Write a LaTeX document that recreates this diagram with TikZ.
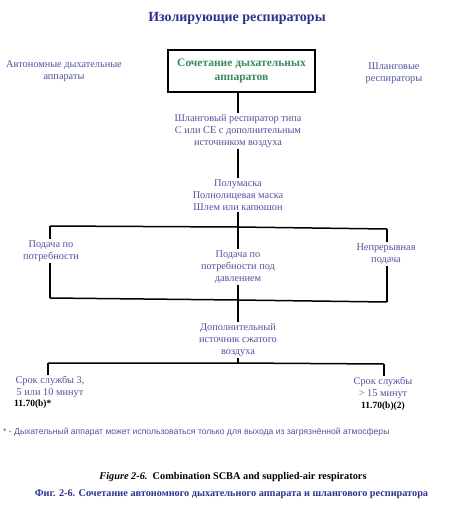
\documentclass[tikz,border=0pt]{standalone}
\usepackage{fontspec}
\setmainfont{Liberation Serif}
\setsansfont{Liberation Sans}
\definecolor{titleblue}{HTML}{2E3190}
\definecolor{txtblue}{HTML}{5252A0}
\definecolor{boxgreen}{HTML}{3A8A5A}
\begin{document}
\begin{tikzpicture}[x=1pt,y=-1pt,
  txt/.style={align=center,text=txtblue,font=\fontsize{10.3}{12}\selectfont,inner sep=1.5pt},
  ref/.style={text=black,font=\fontsize{9.5}{11}\selectfont\bfseries,inner sep=1pt},
  ln/.style={line width=1.5pt,black},
  combobox/.style={draw,line width=1.5pt,minimum width=147,minimum height=42,align=center,
    text=boxgreen,font=\fontsize{11.5}{14}\selectfont\bfseries}]
\useasboundingbox[fill=white] (0,0) rectangle (462,512);
\node[text=titleblue,font=\fontsize{14}{16}\selectfont\bfseries] (title) at (237,18) {Изолирующие респираторы};
\node[txt] (auto) at (64,71) {Автономные дыхательные\\аппараты};
\node[combobox] (combo) at (241.5,71) {Сочетание дыхательных\\аппаратов};
\node[txt] (hoseresp) at (394,73) {Шланговые\\респираторы};
\node[txt] (hose) at (238,131) {Шланговый респиратор типа\\С или СЕ с дополнительным\\источником воздуха};
\node[txt] (mask) at (238,195) {Полумаска\\Полнолицевая маска\\Шлем или капюшон};
\coordinate (tl) at (50,226);
\coordinate (tm) at (238,227);
\coordinate (tr) at (387,229);
\node[txt] (dl) at (51,251) {Подача по\\потребности};
\node[txt] (dm) at (238,267) {Подача по\\потребности под\\давлением};
\node[txt] (dr) at (386,254) {Непрерывная\\подача};
\coordinate (bl) at (50,298);
\coordinate (bm) at (238,300);
\coordinate (br) at (387,302);
\node[txt] (src) at (238,340) {Дополнительный\\источник сжатого\\воздуха};
\coordinate (sl) at (48,363);
\coordinate (sm) at (238,363);
\coordinate (sr) at (384,364);
\node[txt] (l3) at (50,387) {Срок службы 3,\\5 или 10 минут};
\node[txt] (r3) at (383,388) {Срок службы\\> 15 минут};
\node[ref,anchor=west] (lref) at (13,404) {11.70(b)*};
\node[ref] (rref) at (383,406) {11.70(b)(2)};
\node[anchor=west,inner sep=0pt,text=txtblue,font=\sffamily\fontsize{8.6}{11}\selectfont] (note) at (3,432) {* - Дыхательный аппарат может использоваться только для выхода из загрязнённой атмосферы};
\node[text=black,font=\fontsize{10.3}{12}\selectfont\bfseries] (capen) at (233,477) {\textit{Figure 2-6.}\ \ Combination SCBA and supplied-air respirators};
\node[text=titleblue,font=\fontsize{10.25}{12}\selectfont\bfseries] (capru) at (231.5,494) {Фиг. 2-6. Сочетание автономного дыхательного аппарата и шлангового респиратора};
% connectors
\draw[ln] (combo.south -| hose.north) -- (hose.north);
\draw[ln] (hose.south) -- (mask.north);
\draw[ln] (mask.south) -- (dm.north);
\draw[ln] (tl) -- (tm) -- (tr);
\draw[ln] (tl) -- (dl.north -| tl);
\draw[ln] (dl.south -| bl) -- (bl);
\draw[ln] (tr) -- (dr.north -| tr);
\draw[ln] (dr.south -| br) -- (br);
\draw[ln] (bl) -- (bm) -- (br);
\draw[ln] (dm.south) -- (src.north);
\draw[ln] (src.south) -- (sm);
\draw[ln] (sl) -- (sm) -- (sr);
\draw[ln] (sl) -- (l3.north -| sl);
\draw[ln] (sr) -- (r3.north -| sr);
\end{tikzpicture}
\end{document}
